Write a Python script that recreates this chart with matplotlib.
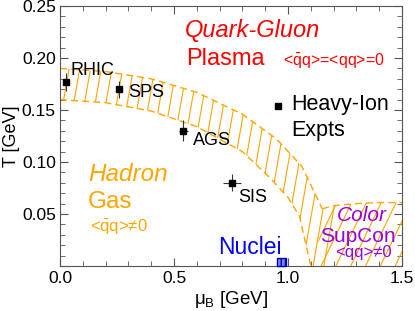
import numpy as np
import matplotlib
matplotlib.use("Agg")
import matplotlib.pyplot as plt
from matplotlib.patches import Polygon, Rectangle
from matplotlib.ticker import MultipleLocator

plt.rcParams["font.family"] = ["Liberation Sans", "DejaVu Sans"]
plt.rcParams["mathtext.fontset"] = "custom"
plt.rcParams["mathtext.rm"] = "Liberation Sans"
plt.rcParams["mathtext.it"] = "Liberation Sans:italic"

# heavy-ion freeze-out points
expts = ["RHIC", "SPS", "AGS", "SIS"]
mu_exp = [0.026, 0.26, 0.54, 0.755]
T_exp = [0.177, 0.170, 0.130, 0.080]
mu_err = [0.005, 0.005, 0.02, 0.04]
T_err = [0.009, 0.008, 0.010, 0.008]

# crossover / transition band
mu_up = [0.0, 0.2, 0.4, 0.6, 0.8, 0.95, 1.06, 1.10, 1.15]
T_up = [0.190, 0.187, 0.180, 0.167, 0.146, 0.122, 0.096, 0.078, 0.055]
mu_lo = [0.0, 0.2, 0.4, 0.6, 0.8, 0.92, 1.0, 1.05, 1.10]
T_lo = [0.160, 0.157, 0.149, 0.134, 0.110, 0.085, 0.066, 0.048, 0.0]

# colour superconductor boundary
mu_csc = [1.15, 1.2, 1.3, 1.4, 1.5]
T_csc = [0.055, 0.058, 0.060, 0.061, 0.061]

# nuclei
nuc_mu = [0.95, 0.99]
nuc_T = 0.008

orange = "#FFA500"
red = "#FF0000"
purple = "#9900DD"
blue = "#0000FF"

fig = plt.figure(figsize=(4.15, 3.11), dpi=100)
ax = fig.add_axes([0.1446, 0.1447, 0.8241, 0.836])
ax.set_xlim(0, 1.5)
ax.set_ylim(0, 0.25)

# hatched band: transition + colour superconductor region
band = list(zip(mu_up, T_up)) + list(zip(mu_csc, T_csc)) + [(1.5, 0.0)] \
    + list(zip(mu_lo[::-1], T_lo[::-1]))
poly = Polygon(band, closed=True, facecolor="none", edgecolor="none")
ax.add_patch(poly)
for c in np.arange(-0.3, 1.2, 0.047):
    t = np.array([0.0, 0.25])
    ln, = ax.plot(c + 0.8 * t, t, color=orange, lw=0.8)
    ln.set_clip_path(poly)

csc = Polygon(list(zip(mu_csc, T_csc)) + [(1.5, 0.0), (1.12, 0.0)],
              closed=True, facecolor="none", edgecolor="none")
ax.add_patch(csc)
for c in np.arange(0.95, 1.6, 0.065):
    t = np.array([0.0, 0.1])
    ln, = ax.plot(c + 2.2 * t, t, color=orange, lw=0.8)
    ln.set_clip_path(csc)

ax.plot(mu_up, T_up, color=orange, lw=1.0, ls=(0, (5, 3)))
ax.plot(mu_lo, T_lo, color=orange, lw=1.0, ls=(0, (5, 3)))
ax.plot(mu_csc, T_csc, color=orange, lw=1.0, ls=(0, (5, 3)))

# nuclei box
ax.add_patch(Rectangle((nuc_mu[0], 0), nuc_mu[1] - nuc_mu[0], nuc_T,
                       facecolor="#7788ff", edgecolor="#0000aa", lw=1.0,
                       hatch="||||", clip_on=False, zorder=3))

# experiments
ax.errorbar(mu_exp, T_exp, xerr=mu_err, yerr=T_err, fmt="s", color="black",
            ecolor="#333333", elinewidth=0.8, ms=5, capsize=0, zorder=4)
lab_pos = [(0.044, 0.188), (0.298, 0.167), (0.583, 0.121), (0.78, 0.066)]
for name, (x, y) in zip(expts, lab_pos):
    ax.text(x, y, name, fontsize=13, ha="left", va="center")

ax.plot([0.956], [0.154], "s", color="black", ms=5)
ax.text(1.013, 0.155, "Heavy-Ion", fontsize=15.5, ha="left", va="center")
ax.text(1.013, 0.130, "Expts", fontsize=15.5, ha="left", va="center")

# phase labels
ax.text(0.842, 0.226, "Quark-Gluon", color=red, fontsize=17, style="italic",
        ha="center", va="center")
ax.text(0.724, 0.199, "Plasma", color=red, fontsize=17, ha="center", va="center")
ax.text(0.978, 0.197, r"<$\bar{\mathrm{q}}$q>=<qq>=0", color=red, fontsize=11.5,
        ha="left", va="center")

ax.text(0.123, 0.0875, "Hadron", color=orange, fontsize=17.5, style="italic",
        ha="left", va="center")
ax.text(0.123, 0.0615, "Gas", color=orange, fontsize=17.5, ha="left", va="center")
ax.text(0.132, 0.0375, "<$\\bar{\\mathrm{q}}$q>\u22600", color=orange, fontsize=12,
        ha="left", va="center")

ax.text(1.215, 0.049, "Color", color=purple, fontsize=15, style="italic",
        ha="left", va="center")
ax.text(1.14, 0.028, "SupCon", color=purple, fontsize=15, ha="left", va="center")
ax.text(1.206, 0.0125, "<qq>\u22600", color=purple, fontsize=12,
        ha="left", va="center")

ax.text(0.693, 0.018, "Nuclei", color=blue, fontsize=16.5, ha="left", va="center")

# axes
ax.set_xlabel(r"$\mathrm{\mu}_{\mathrm{B}}$ [GeV]", fontsize=13.5, labelpad=2)
ax.set_ylabel("T [GeV]", fontsize=13, labelpad=1)
ax.xaxis.set_major_locator(MultipleLocator(0.5))
ax.xaxis.set_minor_locator(MultipleLocator(0.1))
ax.yaxis.set_major_locator(MultipleLocator(0.05))
ax.yaxis.set_minor_locator(MultipleLocator(0.01))
ax.xaxis.set_major_formatter(matplotlib.ticker.FormatStrFormatter("%.1f"))
ax.yaxis.set_major_formatter(matplotlib.ticker.FuncFormatter(
    lambda v, p: "" if v == 0 else "%.2f" % v))
ax.tick_params(which="both", direction="in", top=True, right=True,
               color="#555555", labelsize=12.5)
ax.tick_params(which="major", length=6)
ax.tick_params(which="minor", length=3.5)
ax.tick_params(axis="y", pad=3)
for s in ax.spines.values():
    s.set_color("#555555")

fig.savefig("out.png", dpi=100)
